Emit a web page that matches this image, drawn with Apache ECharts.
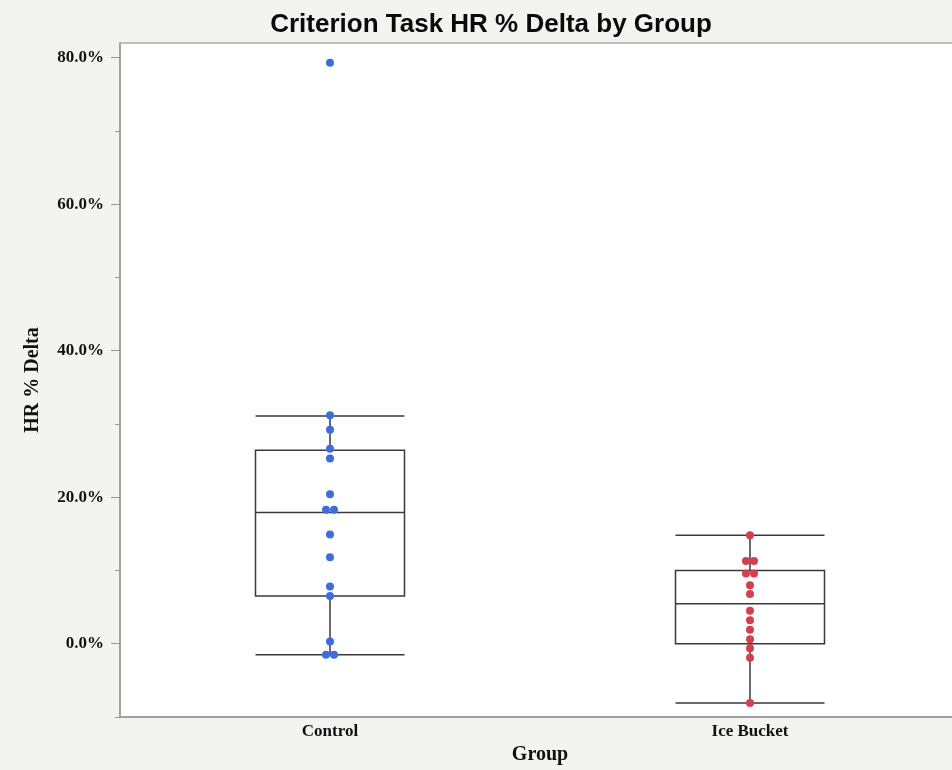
<!DOCTYPE html>
<html>
<head>
<meta charset="utf-8">
<script src="https://cdn.jsdelivr.net/npm/echarts@6/dist/echarts.min.js"></script>
<style>
html,body{margin:0;padding:0;background:#f3f3ef;}
#chart{width:952px;height:770px;}
</style>
</head>
<body>
<div id="chart"></div>
<script>
const categories = ['Control', 'Ice Bucket'];
const controlPoints = [79.3, 31.2, 29.2, 26.6, 25.3, 20.4, 18.3, 18.3, 14.9, 11.8, 7.8, 6.5, 0.3, -1.5, -1.5];
const iceBucketPoints = [14.8, 11.3, 11.3, 9.6, 9.6, 8.0, 6.8, 4.5, 3.2, 1.9, 0.6, -0.6, -1.9, -8.1];
// [lower whisker, Q1, median, Q3, upper whisker]
const controlBox = [-1.5, 6.5, 17.9, 26.4, 31.1];
const iceBucketBox = [-8.1, 0.0, 5.45, 10.0, 14.8];
const majorTicks = [0, 20, 40, 60, 80];
const minorTicks = [-10, 10, 30, 50, 70];

const DOT = 8;
function dodge(catIndex, values) {
  const counts = {}, seen = {};
  values.forEach(v => { counts[v] = (counts[v] || 0) + 1; });
  return values.map(v => {
    const n = counts[v];
    const i = seen[v] || 0;
    seen[v] = i + 1;
    return { value: [catIndex, v], symbolOffset: [(i - (n - 1) / 2) * DOT, 0] };
  });
}

const serif = '"Liberation Serif", "Times New Roman", serif';
const chart = echarts.init(document.getElementById('chart'), null, { renderer: 'canvas' });
chart.setOption({
  backgroundColor: '#f3f3ef',
  animation: false,
  title: {
    text: 'Criterion Task HR % Delta by Group',
    left: 486, top: 7, textAlign: 'center',
    textStyle: { fontFamily: '"Liberation Sans", Arial, sans-serif', fontWeight: 'bold', fontSize: 26, color: '#0a0a0a' }
  },
  grid: {
    left: 120, width: 840, top: 43, bottom: 53,
    outerBoundsMode: 'none',
    show: true, backgroundColor: '#ffffff', borderColor: '#aaaaaa', borderWidth: 1.5
  },
  xAxis: {
    type: 'category', data: categories,
    name: 'Group', nameLocation: 'middle', nameGap: 26,
    nameTextStyle: { fontFamily: serif, fontWeight: 'bold', fontSize: 20, color: '#111' },
    axisLine: { onZero: false, lineStyle: { color: '#999', width: 1.5 } },
    axisTick: { show: false },
    axisLabel: { fontFamily: serif, fontWeight: 'bold', fontSize: 17, color: '#111', margin: 6 },
    splitLine: { show: false }
  },
  yAxis: [{
    type: 'value', min: -10, max: 82,
    name: 'HR % Delta', nameLocation: 'middle', nameGap: 77, nameRotate: 90,
    nameTextStyle: { fontFamily: serif, fontWeight: 'bold', fontSize: 20, color: '#111' },
    axisLine: { show: true, lineStyle: { color: '#999', width: 1.5 } },
    axisTick: { show: true, customValues: majorTicks, length: 9, lineStyle: { color: '#999', width: 1 } },
    axisLabel: { customValues: majorTicks, margin: 16, fontFamily: serif, fontWeight: 'bold', fontSize: 17, color: '#111',
      formatter: v => v.toFixed(1) + '%' },
    splitLine: { show: false }
  }, {
    type: 'value', min: -10, max: 82, position: 'left',
    axisLine: { show: false },
    axisTick: { show: true, customValues: minorTicks, length: 5, lineStyle: { color: '#999', width: 1 } },
    axisLabel: { show: false },
    splitLine: { show: false }
  }],
  series: [{
    type: 'boxplot',
    data: [controlBox, iceBucketBox],
    boxWidth: [149, 149],
    itemStyle: { color: '#ffffff', borderColor: '#3a3a3a', borderWidth: 1.5 },
    z: 2
  }, {
    type: 'scatter', data: dodge(0, controlPoints), symbolSize: DOT,
    itemStyle: { color: '#3d6ddc', opacity: 1 }, z: 3
  }, {
    type: 'scatter', data: dodge(1, iceBucketPoints), symbolSize: DOT,
    itemStyle: { color: '#d43f4e', opacity: 1 }, z: 3
  }]
});
</script>
</body>
</html>
